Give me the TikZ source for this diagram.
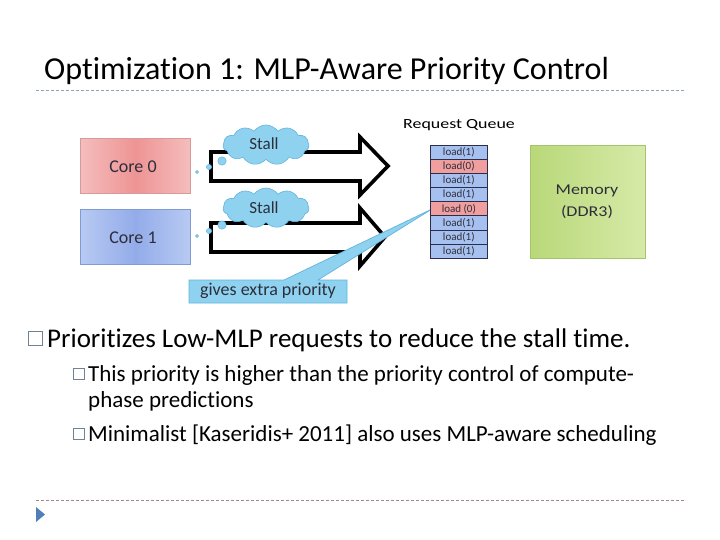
\documentclass[tikz,border=0pt]{standalone}
\usepackage{fontspec}
\setmainfont[Ligatures={NoCommon}]{Carlito}
\usetikzlibrary{shapes.symbols}
\definecolor{titleline}{HTML}{8FA3B8}
\definecolor{footline}{HTML}{A08A88}
\definecolor{navtri}{HTML}{4F7FBA}
\definecolor{cloudfill}{HTML}{8ED2F0}
\definecolor{cloudline}{HTML}{62B4DE}
\definecolor{qblue}{HTML}{A6C0F0}
\definecolor{qred}{HTML}{F09E9E}
\definecolor{qline}{HTML}{2A2E4A}
\definecolor{bulletline}{HTML}{6F8296}
\definecolor{coreAedge}{HTML}{F5BDBD}
\definecolor{coreAmid}{HTML}{EE9494}
\definecolor{coreAline}{HTML}{D79A9A}
\definecolor{coreBedge}{HTML}{B8CAF3}
\definecolor{coreBmid}{HTML}{93ACE9}
\definecolor{coreBline}{HTML}{7F9BD6}
\definecolor{memleft}{HTML}{B9D879}
\definecolor{memright}{HTML}{D6EAA8}
\definecolor{memline}{HTML}{A5C46E}
\definecolor{labeltext}{HTML}{2E2E3A}
\tikzset{
  corebox/.style={draw, line width=0.8pt, minimum width=110pt, minimum height=55pt, anchor=north west},
  corelabel/.style={font=\fontsize{18}{20}\selectfont, text=labeltext},
  bigarrow/.style={draw=black, fill=white, line width=3.6pt, line join=miter},
  stallcloud/.style={cloud, cloud puffs=11, cloud puff arc=110, aspect=2.1, draw=cloudline, fill=cloudfill, line width=0.6pt, minimum width=86pt, minimum height=40pt, inner sep=0pt, font=\fontsize{17}{18}\selectfont, text=labeltext},
  bubble/.style={draw=cloudline, fill=cloudfill, line width=0.5pt},
  qcell/.style={draw=qline, line width=0.6pt, minimum width=57pt, minimum height=14.1pt, inner sep=0pt, anchor=north west, font=\fontsize{11}{12}\selectfont, text=labeltext},
  marker/.style={draw=bulletline, anchor=south west, inner sep=0pt},
  bodytext/.style={anchor=base west, inner sep=0pt}
}
\begin{document}
\begin{tikzpicture}[x=1pt,y=-1pt]
\useasboundingbox (0,0) rectangle (720,540);
\fill[white] (0,0) rectangle (720,540);
% title
\node[anchor=base west, inner sep=0pt, font=\fontsize{32}{36}\selectfont] (title) at (44,80) {Optimization 1: MLP-Aware Priority Control};
\draw[titleline, dashed, dash pattern=on 3pt off 2pt, line width=0.8pt] (36,90) -- (686,90);
% cores
\node[corebox, draw=coreAline, left color=coreAedge, right color=coreAedge, middle color=coreAmid] (core0) at (80,138) {};
\node[corelabel] (core0t) at (133,167) {Core 0};
\node[corebox, draw=coreBline, left color=coreBedge, right color=coreBedge, middle color=coreBmid] (core1) at (80,209) {};
\node[corelabel] (core1t) at (133,238) {Core 1};
% arrows
\draw[bigarrow] (211,152) -- (360,152) -- (360,137) -- (388,166) -- (360,195) -- (360,181) -- (211,181) -- cycle;
\draw[bigarrow] (211,223) -- (360,223) -- (360,208) -- (385,237) -- (360,266) -- (360,252) -- (211,252) -- cycle;
% clouds
\node[stallcloud] (cloud0) at (266,145) {};
\node[font=\fontsize{17}{18}\selectfont, text=labeltext] (stall0) at (264,144) {Stall};
\node[stallcloud] (cloud1) at (266,208) {};
\node[font=\fontsize{17}{18}\selectfont, text=labeltext] (stall1) at (264,208) {Stall};
\draw[bubble] (222,161) circle (4.2);
\draw[bubble] (209,167) circle (2.6);
\draw[bubble] (197,172) circle (1.5);
\draw[bubble] (222,225) circle (4.2);
\draw[bubble] (209,231) circle (2.6);
\draw[bubble] (197,236) circle (1.5);
% callout
\draw[draw=cloudline, fill=cloudfill, line width=0.7pt, line join=miter] (189,280) -- (284,280) -- (432,209) -- (318,280) -- (347,280) -- (347,303) -- (189,303) -- cycle;
\node[font=\fontsize{18}{20}\selectfont, text=labeltext] (calltext) at (268,291) {gives extra priority};
% request queue
\node[font=\fontsize{14}{15}\selectfont] (rqlabel) at (459,125) {\scalebox{1.28}[1]{Request Queue}};
\node[qcell, fill=qblue] (q1) at (430,145.0) {load(1)};
\node[qcell, fill=qred]  (q2) at (430,159.1) {load(0)};
\node[qcell, fill=qblue] (q3) at (430,173.2) {load(1)};
\node[qcell, fill=qblue] (q4) at (430,187.3) {load(1)};
\node[qcell, fill=qred]  (q5) at (430,201.4) {load (0)};
\node[qcell, fill=qblue] (q6) at (430,215.5) {load(1)};
\node[qcell, fill=qblue] (q7) at (430,229.6) {load(1)};
\node[qcell, fill=qblue] (q8) at (430,243.7) {load(1)};
% memory
\node[draw=memline, line width=0.8pt, minimum width=115pt, minimum height=113pt, anchor=north west, left color=memleft, right color=memright] (mem) at (530,145) {};
\node[align=center, font=\fontsize{15}{22}\selectfont, text=labeltext] (memt) at (587,202) {\scalebox{1.2}[1]{Memory}\\\scalebox{1.2}[1]{(DDR3)}};
% bullets
\node[marker, line width=1.2pt, minimum width=14pt, minimum height=14pt] (m1) at (28,346) {};
\node[bodytext, font=\fontsize{27}{30}\selectfont] (b1) at (47,347) {Prioritizes Low-MLP requests to reduce the stall time.};
\node[marker, line width=0.7pt, minimum width=11pt, minimum height=11pt] (m2) at (73,380) {};
\node[bodytext, font=\fontsize{23}{26}\selectfont] (b2) at (88,381) {This priority is higher than the priority control of compute-};
\node[bodytext, font=\fontsize{23}{26}\selectfont] (b3) at (88,407) {phase predictions};
\node[marker, line width=0.7pt, minimum width=11pt, minimum height=11pt] (m3) at (73,440) {};
\node[bodytext, font=\fontsize{23}{26}\selectfont] (b4) at (88,441) {Minimalist [Kaseridis+ 2011] also uses MLP-aware scheduling};
% footer
\draw[footline, dashed, dash pattern=on 3pt off 2pt, line width=0.8pt] (36,500) -- (686,500);
\fill[navtri] (36,507) -- (45,514.5) -- (36,522) -- cycle;
\end{tikzpicture}
\end{document}
